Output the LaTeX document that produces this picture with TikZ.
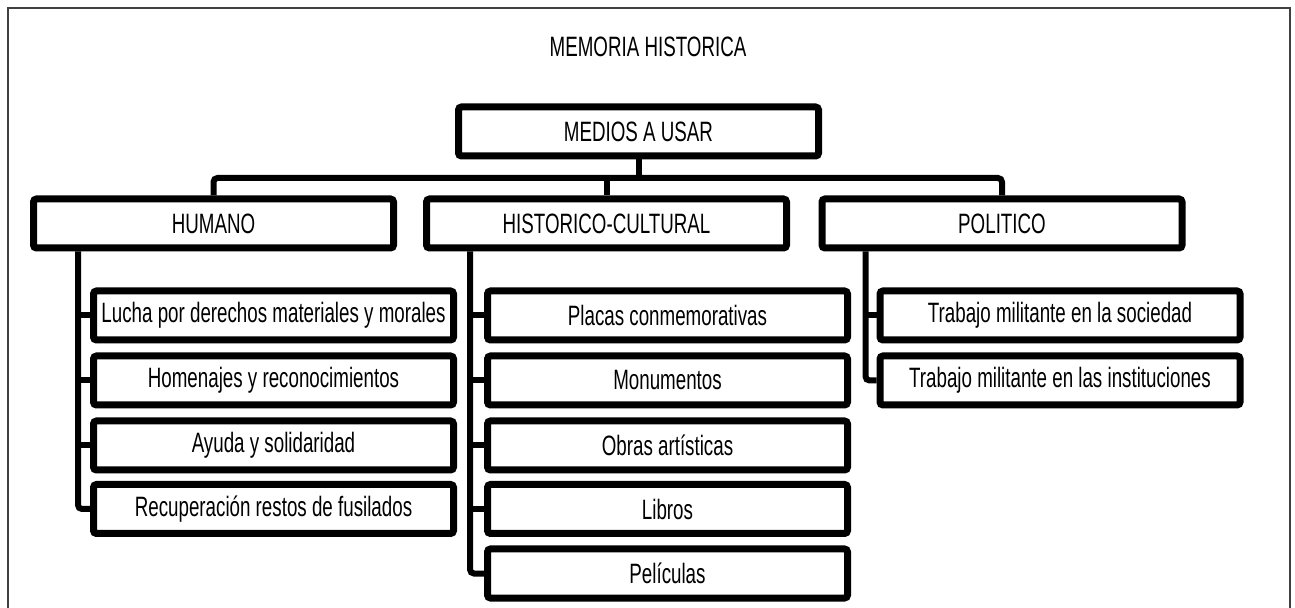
\documentclass[tikz,border=0pt]{standalone}
\usepackage{fontspec}
\setmainfont{Liberation Sans}[FakeStretch=0.67]
\usepackage{tikz}
\tikzset{%
	blk/.style = {name = #1, draw, rounded corners = 1.5pt, line width = 3.5pt, minimum width = 180pt, minimum height = 24.5pt, inner sep = 0pt},
	ttl/.style = {name = #1, inner sep = 0pt},
	lnk/.style = {line width = 3pt, rounded corners = 2pt}
}
\begin{document}
\begin{tikzpicture}[x=0.5pt, y=-0.5pt, font=\fontsize{14}{16}\selectfont]
			\useasboundingbox (0,0) rectangle (1295,608);
			\draw [line width = 0.75pt, black!75] (8,8) rectangle (1290,620);
			\node [ttl = {mem}] at (648,47) {MEMORIA HISTORICA};
			\node [blk = {med}] at (638.5,131.5) {MEDIOS A USAR};
			\node [blk = {hum}] at (213.5,223.5) {HUMANO};
			\node [blk = {his}] at (606.5,223.5) {HISTORICO-CULTURAL};
			\node [blk = {pol}] at (1002,223.5) {POLITICO};
			% humano
			\node [blk = {h1}] at (273.5,315.5) {Lucha por derechos materiales y morales};
			\node [blk = {h2}] at (273.5,380.5) {Homenajes y reconocimientos};
			\node [blk = {h3}] at (273.5,445.5) {Ayuda y solidaridad};
			\node [blk = {h4}] at (273.5,509) {Recuperación restos de fusilados};
			% historico-cultural
			\node [blk = {c1}] at (667.5,315.5) {Placas conmemorativas};
			\node [blk = {c2}] at (667.5,380.5) {Monumentos};
			\node [blk = {c3}] at (667.5,445.5) {Obras artísticas};
			\node [blk = {c4}] at (667.5,509) {Libros};
			\node [blk = {c5}] at (667.5,573.5) {Películas};
			% politico
			\node [blk = {p1}] at (1060,315.5) {Trabajo militante en la sociedad};
			\node [blk = {p2}] at (1060,380.5) {Trabajo militante en las instituciones};
			\coordinate (bus) at (0,178);
			\draw [lnk] (med.south) -- (med.south |- bus);
			\draw [lnk] (hum.north) -- (hum.north |- bus) -- (pol.north |- bus) -- (pol.north);
			\draw [lnk] (his.north |- bus) -- (his.north);
			\draw [lnk] ([xshift=-6pt]h1.west |- hum.south) |- (h4.west);
			\draw [lnk] ([xshift=-7pt]c1.west |- his.south) |- (c5.west);
			\draw [lnk] ([xshift=-5.5pt]p1.west |- pol.south) |- (p2.west);
			\foreach \n in {h1,h2,h3} \draw [lnk] ([xshift=-6pt]\n.west) -- (\n.west);
			\foreach \n in {c1,c2,c3,c4} \draw [lnk] ([xshift=-7pt]\n.west) -- (\n.west);
			\draw [lnk] ([xshift=-5.5pt]p1.west) -- (p1.west);
			\end{tikzpicture}
\end{document}
